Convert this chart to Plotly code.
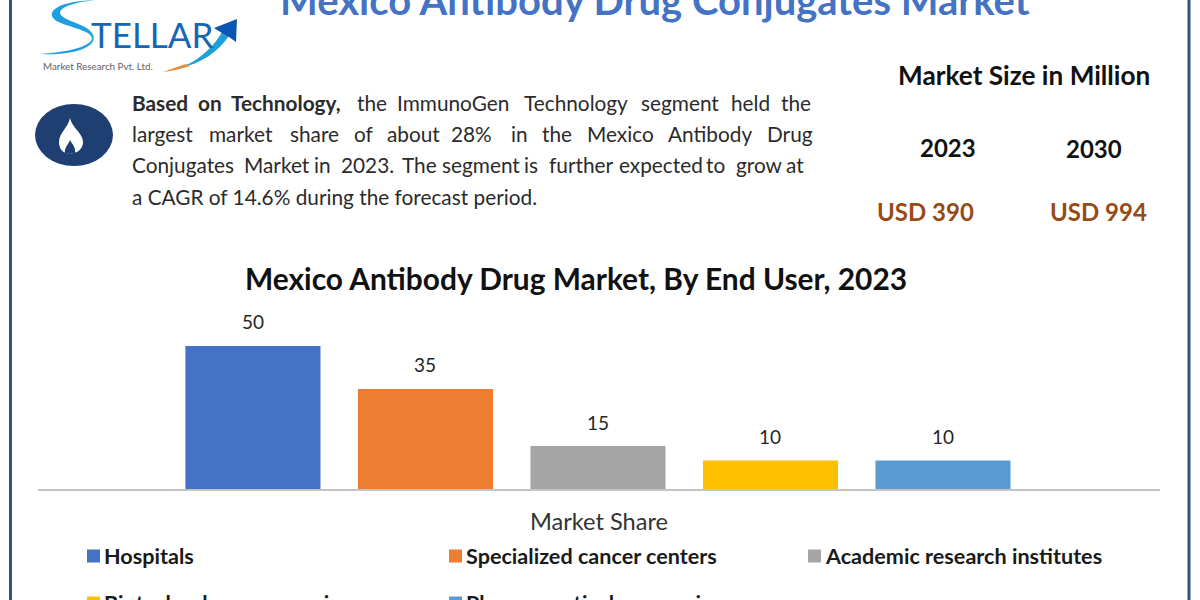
import plotly.graph_objects as go

W, H = 1200, 600

categories = ["Hospitals", "Specialized cancer centers", "Academic research institutes",
              "Biotechnology companies", "Pharmaceutical companies"]
values = [50, 35, 15, 10, 10]
bar_colors = ["#4472C4", "#ED7D31", "#A5A5A5", "#FFC000", "#5B9BD5"]

header = "Mexico Antibody Drug Conjugates Market"
chart_title = "Mexico Antibody Drug Market, By End User, 2023"
axis_title = "Market Share"

line1 = [("<b>Based</b>", 130), ("<b>on</b>", 196), ("<b>Technology,</b>", 229), ("the", 355),
         ("ImmunoGen", 395), ("Technology", 522), ("segment", 639), ("held", 729), ("the", 779)]
line2 = [("largest", 130), ("market", 207), ("share", 288), ("of", 352), ("about", 385), ("28%", 449),
         ("in", 509), ("the", 540), ("Mexico", 585), ("Antibody", 666), ("Drug", 765)]
line3 = [("Conjugates", 130), ("Market", 242), ("in", 312), ("2023.", 339), ("The", 400), ("segment", 440),
         ("is", 522), ("further", 547), ("expected", 617), ("to", 704), ("grow", 734), ("at", 784)]
line4 = [("a CAGR of 14.6% during the forecast period.", 130)]


def px(x):
    return x / W


def py(y):
    return 1 - y / H


def path(*parts):
    out = []
    for p in parts:
        if isinstance(p, str):
            out.append(p)
        else:
            out.append(f"{px(p[0]):.5f},{py(p[1]):.5f}")
    return " ".join(out)


def label(text, x, y, size, color="#1a1a1a", anchor="left", family="Lato"):
    return dict(text=text, xref="paper", yref="paper", x=px(x), y=py(y), xanchor=anchor, yanchor="middle",
                showarrow=False, font=dict(family=family, size=size, color=color), align=anchor)


fig = go.Figure()
fig.add_trace(go.Bar(x=categories, y=values, marker=dict(color=bar_colors, line=dict(width=0)),
                     width=0.783, showlegend=False, hoverinfo="x+y"))

ann = []
ann.append(label(f"<b>{header}</b>", 655, 0, 40, "#4472C4", "center"))
for ln, y in ((line1, 103), (line2, 133), (line3, 164), (line4, 196)):
    for word, x in ln:
        ann.append(label(word, x, y, 20.8, "#2b2b2b"))
ann.append(label("<b>Market Size in Million</b>", 1024, 75, 26.2, "#111111", "center"))
ann.append(label("<b>2023</b>", 948, 147, 24, "#111111", "center"))
ann.append(label("<b>2030</b>", 1094, 149, 24, "#111111", "center"))
ann.append(label("<b>USD 390</b>", 925, 212, 24, "#964B17", "center"))
ann.append(label("<b>USD 994</b>", 1098, 212, 24, "#964B17", "center"))
ann.append(label("TELLAR", 89, 34, 35, "#1566B4"))
ann.append(label("Market Research Pvt. Ltd.", 41, 66, 9.8, "#5f5f5f"))

for c, v in zip(categories, values):
    ann.append(dict(text=str(v), x=c, y=v, xref="x", yref="y", showarrow=False, yshift=24, yanchor="middle",
                    font=dict(family="Lato", size=19, color="#262626")))

leg_pos = [(87, 556), (449, 556), (808, 556), (87, 603), (449, 603)]
shapes = []
for (x, y), c, col in zip(leg_pos, categories, bar_colors):
    ann.append(label(f"<b>{c}</b>", x + 15, y - 0.5, 21.6, "#1a1a1a"))
    shapes.append(dict(type="rect", xref="paper", yref="paper", x0=px(x), x1=px(x + 13), y0=py(y - 6.5),
                       y1=py(y + 6.5), fillcolor=col, line=dict(width=0)))

# frame
for x in (10.5, 1189):
    shapes.append(dict(type="line", xref="paper", yref="paper", x0=px(x), x1=px(x), y0=0, y1=1,
                       line=dict(color="#2F5288", width=3)))
# icon
shapes.append(dict(type="circle", xref="paper", yref="paper", x0=px(35), x1=px(113), y0=py(166), y1=py(104),
                   fillcolor="#1F3F73", line=dict(width=0)))
shapes.append(dict(type="path", xref="paper", yref="paper", fillcolor="#ffffff", line=dict(width=0),
                   path=path("M", (70, 118), "C", (72, 128), (84, 134), (83, 143), "C", (82, 151), (75, 154), (70, 153),
                             "C", (64, 154), (59, 150), (59, 142), "C", (59, 133), (68, 128), (70, 118), "Z")))
shapes.append(dict(type="path", xref="paper", yref="paper", fillcolor="#1F3F73", line=dict(width=0),
                   path=path("M", (70, 140), "C", (72, 144), (76, 147), (75, 153), "L", (65, 153),
                             "C", (64, 148), (68, 145), (70, 140), "Z")))
# logo swooshes
shapes.append(dict(type="path", xref="paper", yref="paper", fillcolor="#1E9FE0", line=dict(width=0),
                   path=path("M", (95, 0), "C", (65, 1), (50, 8), (52, 16), "C", (55, 26), (90, 28), (92, 38),
                             "C", (92, 46), (70, 52), (40, 54), "C", (75, 56), (101, 46), (92, 33),
                             "C", (85, 23), (62, 21), (60, 13), "C", (60, 7), (75, 2), (95, 0), "Z")))
shapes.append(dict(type="path", xref="paper", yref="paper", fillcolor="#1E9FD8", line=dict(width=0),
                   path=path("M", (182, 67), "C", (200, 60), (215, 45), (222, 32), "L", (229, 36),
                             "C", (218, 52), (200, 64), (182, 67), "Z")))
shapes.append(dict(type="path", xref="paper", yref="paper", fillcolor="#E8893A", line=dict(width=0),
                   path=path("M", (163, 72), "C", (170, 69), (178, 67), (186, 64), "L", (190, 66),
                             "C", (181, 69), (172, 71), (163, 72), "Z")))
shapes.append(dict(type="path", xref="paper", yref="paper", fillcolor="#0B56B0", line=dict(width=0),
                   path=path("M", (237, 19), "L", (236, 42), "L", (229, 37), "L", (222, 33), "L", (214, 28), "Z")))

fig.update_layout(
    width=W, height=H, autosize=False,
    margin=dict(l=0, r=0, t=0, b=0),
    paper_bgcolor="#ffffff", plot_bgcolor="#ffffff",
    title=dict(text=f"<b>{chart_title}</b>", x=px(576), y=py(280), xanchor="center", yanchor="middle", xref="paper",
               yref="paper", font=dict(family="Lato", size=29.9, color="#111111")),
    xaxis=dict(domain=[px(38), px(1160)], range=[-1.246, 5.258], showticklabels=False, ticks="", showline=True,
               linecolor="#c4c4c4", linewidth=1.5, showgrid=False, automargin=False,
               title=dict(text=axis_title, standoff=24, font=dict(family="Lato", size=23.6, color="#333333"))),
    yaxis=dict(domain=[py(489), py(300)], range=[0, 66.08], visible=False, showgrid=False),
    annotations=ann, shapes=shapes, bargap=0.2,
)
fig.write_html("out.html", config=dict(displayModeBar=False),
               post_script="document.body.style.margin='0';document.body.style.overflow='hidden';")
